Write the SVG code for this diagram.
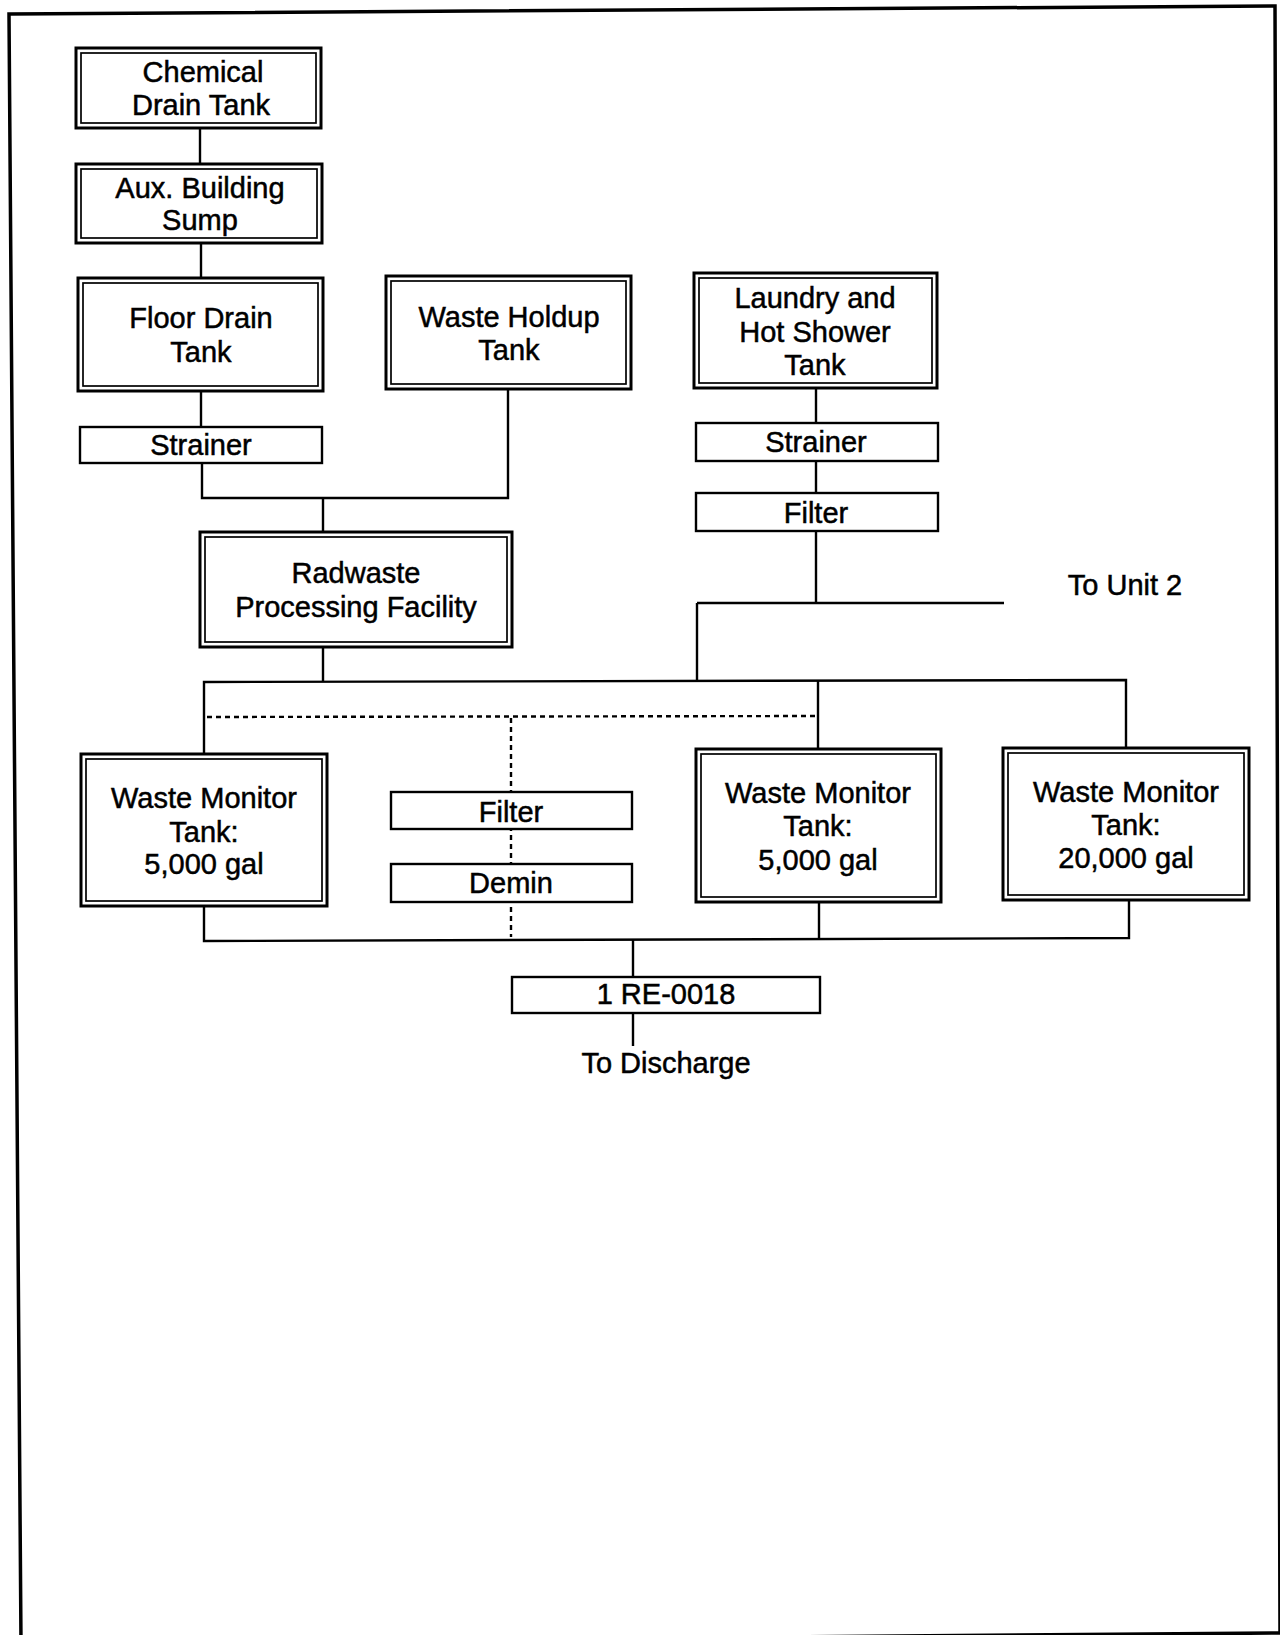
<svg xmlns="http://www.w3.org/2000/svg" width="1280" height="1635" viewBox="0 0 1280 1635">
<style>
.o{fill:#fff;stroke:#000;stroke-width:3}
.i{fill:none;stroke:#000;stroke-width:1.7}
.s{fill:#fff;stroke:#000;stroke-width:2.4}
.c{fill:none;stroke:#000;stroke-width:2.4}
.d{fill:none;stroke:#000;stroke-width:2.4;stroke-dasharray:5 4}
text{font-family:"Liberation Sans",Arial,Helvetica,sans-serif;font-size:29px;fill:#000;stroke:#000;stroke-width:0.5;text-anchor:middle}
</style>
<rect width="1280" height="1635" fill="#fff"/>
<polygon points="9,14 1275,6 1280,1633 21,1643" fill="none" stroke="#000" stroke-width="3.5"/>
<g id="connectors">
<line class="c" x1="200" y1="128" x2="200" y2="164"/>
<line class="c" x1="201" y1="243" x2="201" y2="278"/>
<line class="c" x1="201" y1="391" x2="201" y2="427"/>
<polyline class="c" points="202,463 202,498 508,498 508,389"/>
<line class="c" x1="323" y1="498" x2="323" y2="532"/>
<line class="c" x1="816" y1="388" x2="816" y2="423"/>
<line class="c" x1="816" y1="461" x2="816" y2="493"/>
<line class="c" x1="816" y1="531" x2="816" y2="603"/>
<line class="c" x1="697" y1="603" x2="1004" y2="603"/>
<line class="c" x1="697" y1="603" x2="697" y2="682"/>
<line class="c" x1="323" y1="647" x2="323" y2="682"/>
<polyline class="c" points="204,754 204,682 1126,680 1126,748"/>
<line class="c" x1="818" y1="681" x2="818" y2="749"/>
<polyline class="d" points="207,717 816,716"/>
<line class="d" x1="511" y1="718" x2="511" y2="937"/>
<polyline class="c" points="204,907 204,941 1129,938 1129,901"/>
<line class="c" x1="819" y1="903" x2="819" y2="939"/>
<line class="c" x1="633" y1="940" x2="633" y2="977"/>
<line class="c" x1="633" y1="1013" x2="633" y2="1046"/>
</g>
<g id="chemical-drain-tank"><rect class="o" x="76" y="48" width="245" height="80"/><rect class="i" x="81" y="53" width="235" height="70"/><text x="203" y="82">Chemical</text><text x="201" y="115">Drain Tank</text></g>
<g id="aux-building-sump"><rect class="o" x="76" y="164" width="246" height="79"/><rect class="i" x="81" y="169" width="236" height="69"/><text x="200" y="198">Aux. Building</text><text x="200" y="230">Sump</text></g>
<g id="floor-drain-tank"><rect class="o" x="78" y="278" width="245" height="113"/><rect class="i" x="83" y="283" width="235" height="103"/><text x="201" y="328">Floor Drain</text><text x="201" y="362">Tank</text></g>
<g id="waste-holdup-tank"><rect class="o" x="386" y="276" width="245" height="113"/><rect class="i" x="391" y="281" width="235" height="103"/><text x="509" y="327">Waste Holdup</text><text x="509" y="360">Tank</text></g>
<g id="laundry-tank"><rect class="o" x="694" y="273" width="243" height="115"/><rect class="i" x="699" y="278" width="233" height="105"/><text x="815" y="308">Laundry and</text><text x="815" y="342">Hot Shower</text><text x="815" y="375">Tank</text></g>
<g id="strainer-left"><rect class="s" x="80" y="427" width="242" height="36"/><text x="201" y="455">Strainer</text></g>
<g id="strainer-right"><rect class="s" x="696" y="423" width="242" height="38"/><text x="816" y="452">Strainer</text></g>
<g id="filter-right"><rect class="s" x="696" y="493" width="242" height="38"/><text x="816" y="523">Filter</text></g>
<g id="radwaste"><rect class="o" x="200" y="532" width="312" height="115"/><rect class="i" x="205" y="537" width="302" height="105"/><text x="356" y="583">Radwaste</text><text x="356" y="617">Processing Facility</text></g>
<g id="to-unit-2"><text x="1125" y="595">To Unit 2</text></g>
<g id="wmt-1"><rect class="o" x="81" y="754" width="246" height="152"/><rect class="i" x="86" y="759" width="236" height="142"/><text x="204" y="808">Waste Monitor</text><text x="204" y="842">Tank:</text><text x="204" y="874">5,000 gal</text></g>
<g id="filter-mid"><rect class="s" x="391" y="792" width="241" height="37"/><text x="511" y="822">Filter</text></g>
<g id="demin"><rect class="s" x="391" y="864" width="241" height="38"/><text x="511" y="893">Demin</text></g>
<g id="wmt-2"><rect class="o" x="696" y="749" width="245" height="153"/><rect class="i" x="701" y="754" width="235" height="143"/><text x="818" y="803">Waste Monitor</text><text x="818" y="836">Tank:</text><text x="818" y="870">5,000 gal</text></g>
<g id="wmt-3"><rect class="o" x="1003" y="748" width="246" height="152"/><rect class="i" x="1008" y="753" width="236" height="142"/><text x="1126" y="802">Waste Monitor</text><text x="1126" y="835">Tank:</text><text x="1126" y="868">20,000 gal</text></g>
<g id="re-0018"><rect class="s" x="512" y="977" width="308" height="36"/><text x="666" y="1004">1 RE-0018</text></g>
<g id="to-discharge"><text x="666" y="1073">To Discharge</text></g>
</svg>
